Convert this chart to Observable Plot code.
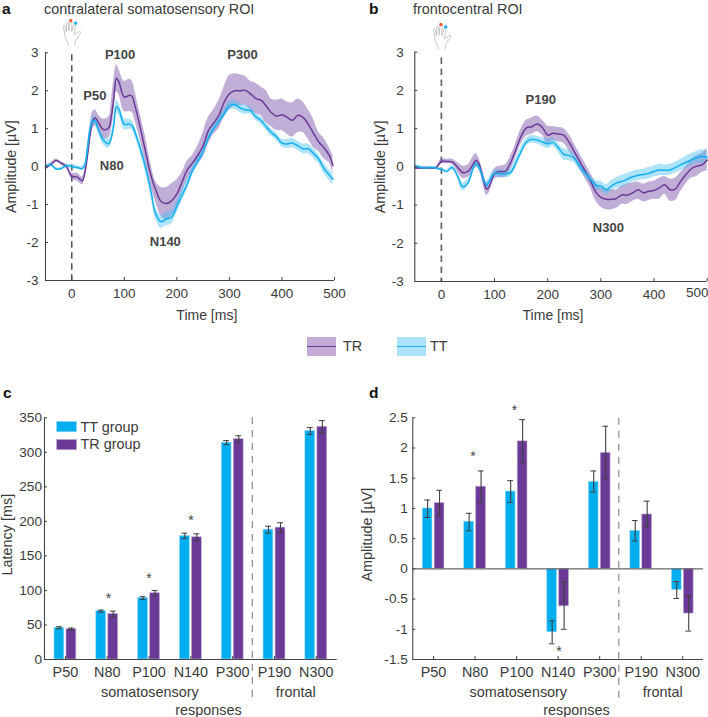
<!DOCTYPE html>
<html><head><meta charset="utf-8">
<script src="https://cdn.jsdelivr.net/npm/d3@7"></script>
<script src="https://cdn.jsdelivr.net/npm/@observablehq/plot@0.6"></script>
<style>
html,body{margin:0;padding:0;background:#fff;}
#root{position:relative;width:708px;height:717px;overflow:hidden;background:#fff;font-family:"Liberation Sans",Arial,sans-serif;color:#3a3a3a;}
#root svg.plot,#root>svg{position:absolute;background:transparent;}
.t{position:absolute;white-space:nowrap;line-height:1;}
.let{font-weight:bold;font-size:15.5px;color:#111;}
.sw{position:absolute;}
.sw i{position:absolute;left:0;right:0;top:50%;height:1.5px;margin-top:-.75px;display:block;}
</style></head><body><div id="root"></div>
<script>
const TR="#6A3A96", TT="#00AEEF", TRband="#7E55AB", TTband="#3FBDF2", DARK="#444444";

// Panel a: somatosensory ROI
const timesA=[-50,-40,-30,-20,-10,0,10,20,25,30,35,40,45,50,60,70,75,80,85,90,100,110,115,120,130,140,150,160,170,180,190,200,210,220,230,240,250,260,270,280,290,300,310,320,330,340,350,360,370,380,390,400,410,420,430,440,450,460,470,480,490,497];
const aTRmean=[-.03,.05,.16,.09,0,-.25,-.27,-.37,-.15,.3,.85,1.2,1.28,1.18,.98,1.02,1.3,1.8,2.33,2.22,1.83,1.88,1.85,1.62,1.05,.42,-.2,-.62,-.92,-.97,-.9,-.72,-.4,-.08,.1,.3,.55,.95,1.15,1.35,1.7,1.92,2,2,2.01,1.92,1.8,1.75,1.6,1.42,1.33,1.37,1.3,1.22,1.35,1.3,1.12,.88,.65,.5,.3,.03];
const aTRup=[.02,.1,.2,.13,.05,-.17,-.17,-.27,-.05,.45,1.05,1.45,1.5,1.38,1.25,1.3,1.7,2.3,2.68,2.55,2.25,2.3,2.25,2,1.4,.8,.1,-.4,-.55,-.55,-.45,-.35,-.15,.15,.3,.55,.9,1.3,1.5,1.75,2.1,2.4,2.45,2.42,2.38,2.25,2.2,2.1,2,1.78,1.75,1.78,1.7,1.68,1.78,1.7,1.5,1.25,.9,.75,.5,.3];
const aTRlo=[-.08,0,.12,.05,-.05,-.33,-.38,-.48,-.25,.15,.7,1,1.08,.98,.75,.75,.95,1.4,1.98,1.88,1.45,1.45,1.42,1.22,.7,.1,-.5,-.95,-1.3,-1.4,-1.3,-1.1,-.7,-.35,-.15,.05,.25,.6,.85,1,1.3,1.5,1.6,1.6,1.62,1.5,1.4,1.35,1.15,1.05,.95,.95,.85,.78,.9,.9,.72,.5,.4,.2,.1,-.2];
const aTTmean=[0,.05,-.06,-.05,.03,0,-.02,-.05,.05,.5,1,1.2,1.2,1,.7,.6,.75,1.1,1.58,1.5,1.12,1.12,1.08,.92,.5,0,-.6,-1.25,-1.45,-1.38,-1.33,-1.05,-.75,-.45,-.1,.15,.4,.75,1,1.2,1.4,1.6,1.63,1.55,1.5,1.48,1.32,1.22,1.05,.9,.78,.62,.6,.62,.55,.47,.47,.35,.2,-.05,-.22,-.33];
const aTTup=[.03,.08,-.03,-.02,.07,.06,.03,0,.12,.62,1.12,1.32,1.32,1.12,.82,.72,.88,1.25,1.75,1.66,1.27,1.25,1.2,1.05,.62,.14,-.46,-1.1,-1.28,-1.2,-1.15,-.88,-.6,-.3,.02,.26,.52,.85,1.1,1.3,1.52,1.72,1.75,1.67,1.62,1.58,1.42,1.32,1.15,1,.88,.72,.72,.74,.67,.6,.6,.48,.32,.08,-.08,-.18];
const aTTlo=[-.03,.02,-.09,-.08,-.01,-.06,-.07,-.1,-.02,.38,.88,1.08,1.08,.88,.58,.48,.62,.95,1.41,1.34,.97,.99,.96,.79,.38,-.14,-.74,-1.4,-1.62,-1.56,-1.51,-1.22,-.9,-.6,-.22,.04,.28,.65,.9,1.1,1.28,1.48,1.51,1.43,1.38,1.38,1.22,1.12,.95,.8,.68,.52,.48,.5,.43,.34,.34,.22,.08,-.18,-.36,-.48];

// Panel b: frontocentral ROI
const timesB=[-50,-40,-30,-20,-10,0,10,20,30,40,50,60,65,70,80,85,90,100,110,120,130,140,150,160,170,180,190,200,210,220,230,240,250,260,270,280,290,300,310,320,330,340,350,360,370,380,390,400,410,420,430,440,450,460,470,480,490,500];
const bTRmean=[-.03,-.03,-.03,-.03,-.02,.14,.14,.13,0,-.15,-.12,.07,.17,.1,-.38,-.58,-.52,-.18,-.12,-.12,.1,.45,.8,1.02,1.05,1.12,1.03,.83,.88,.86,.83,.65,.4,.15,-.1,-.35,-.65,-.8,-.85,-.85,-.82,-.73,-.74,-.68,-.6,-.68,-.64,-.62,-.55,-.47,-.6,-.58,-.38,-.2,-.05,.02,.05,.18];
const bTRup=[0,0,0,0,.01,.2,.2,.2,.12,.02,.05,.28,.35,.25,-.2,-.42,-.38,-.05,.02,.05,.28,.62,1,1.22,1.28,1.33,1.22,1.07,1.05,1.03,1,.85,.6,.35,.1,-.15,-.4,-.55,-.6,-.6,-.6,-.5,-.45,-.42,-.4,-.45,-.4,-.38,-.3,-.25,-.32,-.3,-.15,0,.2,.3,.35,.5];
const bTRlo=[-.07,-.07,-.06,-.06,-.05,.08,.08,.06,-.12,-.3,-.28,-.12,-.02,-.05,-.55,-.75,-.68,-.32,-.28,-.28,-.08,.25,.6,.8,.85,.92,.83,.6,.68,.66,.62,.42,.2,-.05,-.3,-.55,-.88,-1.05,-1.12,-1.12,-1.08,-.98,-.98,-.9,-.85,-.92,-.88,-.85,-.85,-.72,-.9,-.88,-.65,-.45,-.3,-.25,-.15,-.1];
const bTTmean=[.02,-.01,-.03,-.02,-.03,-.07,-.12,-.02,-.22,-.52,-.42,-.03,.08,.02,-.35,-.48,-.38,-.17,-.18,-.18,-.15,.1,.4,.65,.72,.7,.65,.6,.64,.5,.33,.3,.22,.02,-.15,-.32,-.48,-.5,-.6,-.5,-.42,-.38,-.32,-.26,-.22,-.2,-.17,-.12,-.08,-.09,-.08,-.02,.05,.12,.18,.24,.27,.25];
const bTTup=[.06,.03,0,.01,0,-.03,-.08,.03,-.15,-.42,-.32,.04,.16,.1,-.25,-.38,-.28,-.08,-.08,-.08,-.05,.22,.52,.75,.82,.8,.76,.72,.75,.62,.48,.44,.34,.14,-.05,-.22,-.36,-.38,-.47,-.36,-.28,-.22,-.17,-.12,-.08,-.06,-.02,.02,.07,.05,.06,.12,.2,.28,.34,.4,.45,.4];
const bTTlo=[-.02,-.05,-.06,-.05,-.06,-.11,-.16,-.07,-.29,-.62,-.52,-.1,0,-.06,-.45,-.58,-.48,-.26,-.28,-.28,-.25,-.02,.28,.55,.62,.6,.54,.48,.53,.38,.18,.16,.1,-.1,-.25,-.42,-.6,-.62,-.73,-.64,-.56,-.54,-.47,-.4,-.36,-.34,-.32,-.26,-.23,-.23,-.22,-.16,-.1,-.04,.02,.08,.09,.1];

const aPeaks=["P100","P50","N80","N140","P300"], aPeakT=[92,44,76,178,325], aPeakV=[2.95,1.87,.03,-1.97,2.95];
const bPeaks=["P190","N300"], bPeakT=[187,314], bPeakV=[1.75,-1.6];

// Panels c, d
const components=["P50","N80","P100","N140","P300","P190","N300"];
const latTT=[46,70,89,179,314,188,331], latTTerr=[1.5,1.5,2,4,3,5,5];
const latTR=[44,66,96,177,319,191,337], latTRerr=[1.5,4,4,5,5,7,9];
const ampTT=[1,.78,1.28,-1.05,1.44,.63,-.35], ampTThi=[1.14,.92,1.46,-.86,1.62,.8,-.21], ampTTlo=[.85,.63,1.1,-1.24,1.27,.46,-.49];
const ampTR=[1.09,1.36,2.11,-.62,1.92,.9,-.74], ampTRhi=[1.3,1.62,2.47,-.22,2.36,1.12,-.45], ampTRlo=[.88,1.1,1.75,-1,1.49,.69,-1.03];
const latStarX=[1.03,2,3], latStarY=[90,120,203];
const ampStarX=[.95,1.95,3.02], ampStarY=[1.88,2.64,-1.35];

const root=document.getElementById("root");
const fam='"Liberation Sans",Arial,sans-serif';
const handSvg=`<svg xmlns="http://www.w3.org/2000/svg" viewBox="15 10 70 95"><path d="M38 100C36 90 30 82 27 72L21 38C20 32 25 30 26 36L31 55L31 28C31 22 37 22 37 28L39 52L42 22C43 16 49 16 49 22L48 54L56 30C58 24 64 26 62 32L56 65L70 55C75 51 80 55 76 60L60 85L58 100" fill="none" stroke="#a8a8a8" stroke-width="2"/><circle cx="45" cy="18" r="5.5" fill="#F15A29"/><circle cx="61" cy="26" r="5.5" fill="#00AEEF"/></svg>`;
const hand="data:image/svg+xml,"+encodeURIComponent(handSvg);

function place(svg,left,top){svg.style.left=left+"px";svg.style.top=top+"px";svg.style.position="absolute";svg.style.overflow="visible";root.appendChild(svg);}
function series(t,m,l,u){return t.map((d,i)=>({t:d,m:m[i],l:l[i],u:u[i]}));}

function erp(o){
  const tr=series(o.t,o.tr[0],o.tr[1],o.tr[2]), tt=series(o.t,o.tt[0],o.tt[1],o.tt[2]);
  const peaks=o.names.map((n,i)=>({n,t:o.pt[i],v:o.pv[i]}));
  return Plot.plot({
    width:o.w,height:o.h,marginLeft:o.ml,marginRight:o.mr,marginTop:o.mt,marginBottom:o.mb,
    style:{fontFamily:fam,fontSize:"13.5px",color:"#3a3a3a",background:"transparent",overflow:"visible"},
    x:{domain:[-50,500]},y:{domain:[-3,3]},
    marks:[
      Plot.ruleX([0],{y1:o.dashTop,y2:-3,stroke:o.dashColor,strokeWidth:o.dashW,strokeDasharray:"6.5,4.5"}),
      Plot.areaY(tr,{x:"t",y1:"l",y2:"u",fill:TRband,fillOpacity:.48,curve:"catmull-rom"}),
      Plot.areaY(tt,{x:"t",y1:"l",y2:"u",fill:TTband,fillOpacity:.42,curve:"catmull-rom"}),
      Plot.line(tr,{x:"t",y:"m",stroke:TR,strokeWidth:1.5,curve:"catmull-rom"}),
      Plot.line(tt,{x:"t",y:"m",stroke:"#12B0EE",strokeWidth:1.5,curve:"catmull-rom"}),
      Plot.ruleX([-50],{stroke:DARK,strokeWidth:1.1}),
      Plot.ruleY([-3],{stroke:DARK,strokeWidth:1.1}),
      Plot.axisY({ticks:d3.range(-3,4),anchor:"left",tickSize:-3,tickPadding:o.typ,tickFormat:d=>String(d),label:null,stroke:DARK}),
      Plot.axisX({ticks:d3.range(0,501,100),anchor:"bottom",tickSize:-3,tickPadding:10.5,tickFormat:d=>(o.lastDx&&d===500)?"":String(d),label:null,stroke:DARK}),
      o.lastDx?Plot.text(["500"],{x:()=>500,y:()=>-3,dx:o.lastDx,dy:11.5}):null,
      Plot.text(["Amplitude [µV]"],{frameAnchor:"left",dx:o.ylx,rotate:-90,textAnchor:"middle",fontSize:14.2,fill:"#3a3a3a"}),
      Plot.text(["Time [ms]"],{x:()=>o.xlabT,y:()=>o.xlabV,fontSize:14,fill:"#3a3a3a"}),
      Plot.text(peaks,{x:"t",y:"v",text:"n",fontSize:13,fontWeight:"bold",fill:"#444"}),
      Plot.image([0],{x:()=>o.handT,y:()=>o.handV,src:()=>hand,width:o.handW,height:o.handH,preserveAspectRatio:"xMidYMid meet"})
    ]
  });
}

function bars(o){
  const tt=components.map((c,i)=>({i,v:o.tt[i],hi:o.tthi[i],lo:o.ttlo[i]}));
  const tr=components.map((c,i)=>({i,v:o.tr[i],hi:o.trhi[i],lo:o.trlo[i]}));
  const stars=o.sx.map((x,i)=>({x,y:o.sy[i]}));
  const errs=(data,c)=>[
    Plot.ruleX(data,{x:d=>d.i+c,y1:"lo",y2:"hi",stroke:"#404040",strokeWidth:1.1}),
    Plot.ruleY(data,{y:"hi",x1:d=>d.i+c-.07,x2:d=>d.i+c+.07,stroke:"#404040",strokeWidth:1}),
    Plot.ruleY(data,{y:"lo",x1:d=>d.i+c-.07,x2:d=>d.i+c+.07,stroke:"#404040",strokeWidth:1})
  ];
  return Plot.plot({
    width:o.w,height:o.h,marginLeft:o.ml,marginRight:o.mr,marginTop:o.mt,marginBottom:o.mb,
    style:{fontFamily:fam,fontSize:"14.4px",color:"#3a3a3a",background:"transparent",overflow:"visible"},
    x:{domain:[-.5,6.5]},y:{domain:o.dom},
    marks:[
      Plot.rect(tt,{x1:d=>d.i-.262,x2:d=>d.i-.026,y1:0,y2:"v",fill:TT,stroke:"#9fdcf7",strokeWidth:.6}),
      Plot.rect(tr,{x1:d=>d.i+.026,x2:d=>d.i+.262,y1:0,y2:"v",fill:TR,stroke:"#c5b1da",strokeWidth:.6}),
      ...errs(tt,-.144),...errs(tr,.144),
      Plot.ruleX([o.sep],{y1:()=>o.sepLow,y2:()=>o.dom[1],stroke:"#8a8a8a",strokeWidth:1.2,strokeDasharray:"7,6"}),
      o.zero?Plot.ruleY([0],{stroke:"#666",strokeWidth:1.1}):null,
      Plot.ruleX([-.5],{stroke:DARK,strokeWidth:1.1}),
      Plot.ruleY([o.dom[0]],{stroke:DARK,strokeWidth:1.1}),
      Plot.axisY({ticks:o.yt,anchor:"left",tickSize:-3,tickPadding:o.typ,tickFormat:d=>String(d),label:null,stroke:DARK,fontSize:13.6}),
      Plot.axisX({ticks:d3.range(0,7),anchor:"bottom",tickSize:-3,tickPadding:10.5,tickFormat:i=>components[i],label:null,stroke:DARK}),
      Plot.text(stars,{x:"x",y:"y",text:()=>"*",fontSize:14,fill:"#444",dy:1.5}),
      Plot.text(["somatosensory"],{x:()=>o.tx[0],y:()=>o.ty[0]}),
      Plot.text(["responses"],{x:()=>o.tx[1],y:()=>o.ty[1]}),
      Plot.text(["frontal"],{x:()=>o.tx[2],y:()=>o.ty[0]}),
      Plot.text([o.ylab],{frameAnchor:"left",dx:o.ylx,dy:-4,rotate:-90,textAnchor:"middle",fontSize:14.4}),
      ...(o.extra||[])
    ]
  });
}

const legendBoxes=[{x1:-.2,x2:.28,y1:329,y2:344,f:TT,s:"#9fdcf7"},{x1:-.2,x2:.28,y1:303,y2:318,f:TR,s:"#c5b1da"}];
const legendTexts=[{x:.36,y:336,t:"TT group"},{x:.36,y:311,t:"TR group"}];

place(erp({w:354,h:330,ml:45,mr:20,mt:52.3,mb:50,dashTop:2.95,dashColor:"#444",dashW:1.4,typ:10,
  t:timesA,tr:[aTRmean,aTRlo,aTRup],tt:[aTTmean,aTTlo,aTTup],names:aPeaks,pt:aPeakT,pv:aPeakV,
  ylx:-34,xlabT:257,xlabV:-3.92,handT:1,handV:3.53,handW:22,handH:29}),0,0);
place(erp({w:354,h:330,ml:60.3,mr:1.3,mt:51.7,mb:49,dashTop:2.85,dashColor:"#666",dashW:1.7,typ:14,lastDx:-10,
  t:timesB,tr:[bTRmean,bTRlo,bTRup],tt:[bTTmean,bTTlo,bTTup],names:bPeaks,pt:bPeakT,pv:bPeakV,
  ylx:-34.6,xlabT:210,xlabV:-3.9,handT:2,handV:3.41,handW:22,handH:29}),354,0);
place(bars({w:354,h:342,ml:44,mr:17.3,mt:42.3,mb:58,dom:[0,350],yt:d3.range(0,351,50),typ:5.5,
  tt:latTT,tthi:latTT.map((v,i)=>v+latTTerr[i]),ttlo:latTT.map((v,i)=>v-latTTerr[i]),
  tr:latTR,trhi:latTR.map((v,i)=>v+latTRerr[i]),trlo:latTR.map((v,i)=>v-latTRerr[i]),
  sx:latStarX,sy:latStarY,sep:4.47,sepLow:-55,tx:[2.02,3.42,5.51],ty:[-47,-73],ylab:"Latency [ms]",ylx:-37,
  extra:[
    Plot.rect(legendBoxes,{x1:"x1",x2:"x2",y1:"y1",y2:"y2",fill:"f",stroke:"s",strokeWidth:.6}),
    Plot.text(legendTexts,{x:"x",y:"y",text:"t",textAnchor:"start"})
  ]}),0,375);
place(bars({w:354,h:342,ml:58.3,mr:5,mt:42.3,mb:58,dom:[-1.5,2.5],yt:d3.range(-1.5,2.51,.5),zero:true,typ:8,
  tt:ampTT,tthi:ampTThi,ttlo:ampTTlo,tr:ampTR,trhi:ampTRhi,trlo:ampTRlo,
  sx:ampStarX,sy:ampStarY,sep:4.46,sepLow:-2.14,tx:[2.04,3.44,5.52],ty:[-2.05,-2.345],ylab:"Amplitude [µV]",ylx:-45}),354,375);

function label(txt,x,y,cls,style){const d=document.createElement("div");d.className="t "+(cls||"");d.textContent=txt;d.style.left=x+"px";d.style.top=y+"px";Object.assign(d.style,style||{});root.appendChild(d);}
label("a",2,1,"let");label("b",369,1,"let");label("c",3,385,"let");label("d",369,385,"let");
label("contralateral somatosensory ROI",44,2,"",{fontSize:"14.4px"});
label("frontocentral ROI",413,2,"",{fontSize:"14.4px"});
function swatch(x,bg,line,name,tx){
  const s=document.createElement("div");s.className="sw";
  Object.assign(s.style,{left:x+"px",top:"337px",width:"29px",height:"18.5px",background:bg});
  const i=document.createElement("i");i.style.background=line;s.appendChild(i);root.appendChild(s);
  label(name,tx,339,"",{fontSize:"14.4px"});
}
swatch(307,"#C3ADD8",TR,"TR",343);
swatch(397,"#ACE2FA","#1CB0EC","TT",430);
</script></body></html>
